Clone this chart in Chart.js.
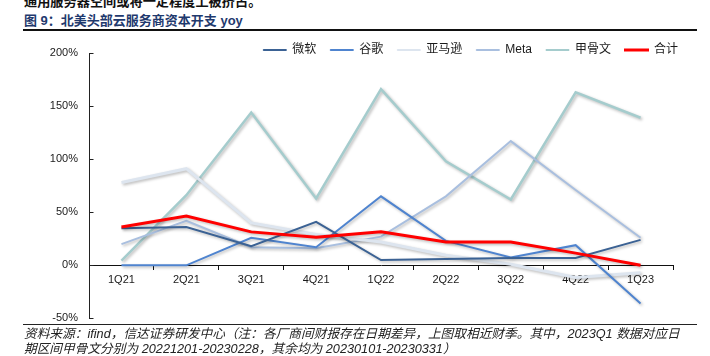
<!DOCTYPE html>
<html><head><meta charset="utf-8">
<script src="https://cdn.jsdelivr.net/npm/chart.js@4.4.0/dist/chart.umd.min.js"></script>
<style>
html,body{margin:0;padding:0;background:#fff;width:710px;height:356px;overflow:hidden;position:relative;font-family:"Liberation Sans","Noto Sans CJK SC",sans-serif;}
#top{position:absolute;left:24px;top:-5px;font-size:13.2px;font-weight:bold;color:#111;white-space:nowrap;line-height:13px;}
#title{position:absolute;left:24px;top:14px;font-size:13px;font-weight:bold;color:#1f3a6e;white-space:nowrap;line-height:14px;}
#hr1{position:absolute;left:23px;top:29px;width:674px;height:2px;background:#111;}
#hr2{position:absolute;left:23px;top:324px;width:674px;height:1px;background:#222;}
.foot{position:absolute;left:24px;font-size:12.7px;font-style:italic;color:#222;white-space:nowrap;line-height:15px;}
#wrap{position:absolute;left:0;top:30px;width:710px;height:306px;}
</style></head>
<body>
<div id="top">通用服务器空间或将一定程度上被挤占。</div>
<div id="title">图 9：北美头部云服务商资本开支 yoy</div>
<div id="hr1"></div>
<div id="wrap"><canvas id="c" width="710" height="306"></canvas></div>
<div id="hr2"></div>
<div class="foot" style="top:327px">资料来源：ifind，信达证券研发中心（注：各厂商间财报存在日期差异，上图取相近财季。其中，2023Q1 数据对应日</div>
<div class="foot" style="top:342px">期区间甲骨文分别为 20221201-20230228，其余均为 20230101-20230331）</div>
<script>
const categories = ['1Q21','2Q21','3Q21','4Q21','1Q22','2Q22','3Q22','4Q22','1Q23'];
const seriesNames = ['微软','谷歌','亚马逊','Meta','甲骨文','合计'];
const microsoft = [35, 36, 18, 41, 5, 6, 7, 7, 24];
const google = [0, 0, 26, 17, 65, 23, 7.5, 19, -36];
const amazon = [78, 91, 40, 29, 22, 9.5, 1, -11.5, -7];
const meta = [20, 42, 17, 16, 27, 65, 117, 71, 26];
const oracle = [4.5, 66, 144, 63, 166, 98, 62, 163, 139];
const total = [36, 46.5, 31.5, 26.5, 31.5, 22, 22, 11.5, 0];
const yTicks = [-50, 0, 50, 100, 150, 200];

const colors = ['#3b6294', '#4f84cf', '#dde5ef', '#a9bfdf', '#a5cccd', '#ff0000'];
const widths = [2, 2, 3, 2, 2.5, 3];
const values = [microsoft, google, amazon, meta, oracle, total];

const shadowPlugin = {
  id: 'shadow',
  beforeDatasetDraw(chart) {
    const ctx = chart.ctx; ctx.save();
    ctx.shadowColor = 'rgba(0,0,0,0.28)'; ctx.shadowBlur = 3;
    ctx.shadowOffsetX = 1.5; ctx.shadowOffsetY = 1.5;
  },
  afterDatasetDraw(chart) { chart.ctx.restore(); }
};
const legendRoom = {
  id: 'legendRoom',
  afterLayout(chart) {
    const lg = chart.legend;
    if (lg) { lg.bottom = lg.top + 40; lg.height = 40; }
  }
};
const yInnerTicks = {
  id: 'yInnerTicks',
  afterDraw(chart) {
    const s = chart.scales.y, ctx = chart.ctx;
    ctx.save(); ctx.strokeStyle = '#222'; ctx.lineWidth = 1;
    const x = Math.round(s.right) + 0.5;
    ctx.beginPath(); ctx.moveTo(x, s.top); ctx.lineTo(x, s.bottom); ctx.stroke();
    s.ticks.forEach((t, i) => {
      const y = Math.round(s.getPixelForTick(i)) + 0.5;
      ctx.beginPath(); ctx.moveTo(x, y); ctx.lineTo(x + 4, y); ctx.stroke();
    });
    ctx.restore();
  }
};

new Chart(document.getElementById('c'), {
  type: 'line',
  data: {
    labels: categories,
    datasets: seriesNames.map((n, i) => ({
      label: n, data: values[i], borderColor: colors[i], backgroundColor: colors[i],
      borderWidth: widths[i], pointRadius: 0, tension: 0, fill: false,
      order: i === 5 ? 0 : 1, yAxisID: 'y'
    }))
  },
  options: {
    responsive: false, animation: false,
    layout: { padding: { left: 50, right: 18, top: 0, bottom: 0 } },
    plugins: {
      tooltip: { enabled: false },
      legend: {
        position: 'top', align: 'end', maxHeight: 23,
        labels: {
          boxWidth: 23, boxHeight: 1, padding: 14, color: '#1a1a1a',
          font: { size: 12, family: '"Liberation Sans","Noto Sans CJK SC",sans-serif' },
          sort: (a, b) => a.datasetIndex - b.datasetIndex,
          generateLabels(chart) {
            const items = Chart.defaults.plugins.legend.labels.generateLabels(chart);
            items.forEach(it => {
              const c = colors[it.datasetIndex];
              it.fillStyle = c; it.strokeStyle = c;
              it.lineWidth = it.datasetIndex === 5 ? 2 : 1;
            });
            return items;
          }
        }
      }
    },
    scales: {
      x: {
        type: 'category', offset: true, position: { y: 0 },
        grid: { display: true, drawOnChartArea: false, offset: true, tickLength: 4, color: '#111', tickColor: '#111' },
        border: { display: true, color: '#111', width: 1 },
        ticks: { color: '#1a1a1a', padding: 4, maxRotation: 0, font: { size: 11, family: '"Liberation Sans",sans-serif' } }
      },
      y: {
        position: 'left', min: -50, max: 200,
        afterBuildTicks(s) { s.ticks = yTicks.map(v => ({ value: v })); },
        afterFit(s) { s.width = 39; },
        grid: { display: true, drawOnChartArea: false, drawTicks: false },
        border: { display: true, color: '#222', width: 1 },
        ticks: { color: '#1a1a1a', padding: 11, callback: v => v + '%', font: { size: 11, family: '"Liberation Sans",sans-serif' } }
      },
      yR: {
        position: 'right', display: true,
        afterFit(s) { s.width = 19; },
        grid: { display: false, drawTicks: false },
        border: { display: false },
        ticks: { display: false }
      }
    }
  },
  plugins: [shadowPlugin, legendRoom, yInnerTicks]
});
</script>
</body></html>
